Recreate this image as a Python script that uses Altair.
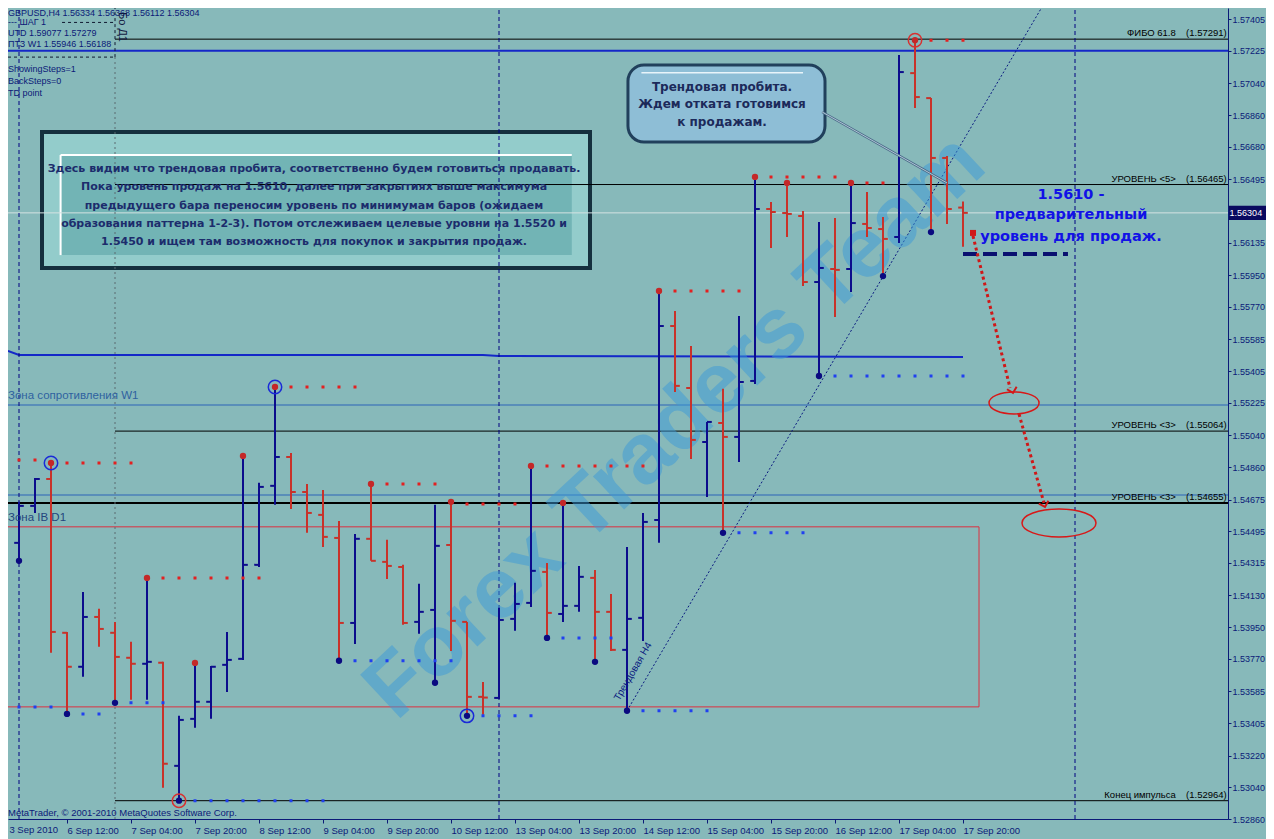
import altair as alt
import pandas as pd

# ---------------- OHLC data (GBPUSD H4, bar index 0..60) ----------------
OPEN = [1.54616, 1.54429, 1.54639, 1.54792, 1.53918, 1.53725, 1.54008, 1.53918, 1.53776, 1.53742,
        1.53748, 1.53162, 1.53429, 1.53526, 1.53736, 1.53770, 1.54304, 1.54753, 1.54917, 1.54718,
        1.54588, 1.54457, 1.53974, 1.54452, 1.54321, 1.54292, 1.53980, 1.54048, 1.54417, 1.53980,
        1.53554, 1.53548, 1.53997, 1.54088, 1.54264, 1.54025, 1.54071, 1.54230, 1.54037, 1.53821,
        1.54003, 1.54559, 1.55661, 1.55309, 1.55002, 1.55110, 1.55031, 1.55349, 1.56326, 1.56303,
        1.56286, 1.55911, 1.55985, 1.55985, 1.56241, 1.56212, 1.56167, 1.57098, 1.56956, 1.56616,
        1.56334]
HIGH = [1.54673, 1.54662, 1.54798, 1.54883, 1.53923, 1.54150, 1.54054, 1.53980, 1.53867, 1.54230,
        1.53753, 1.53446, 1.53747, 1.53730, 1.53923, 1.54923, 1.54770, 1.55315, 1.54940, 1.54764,
        1.54730, 1.54553, 1.54480, 1.54764, 1.54446, 1.54304, 1.54196, 1.54645, 1.54662, 1.53980,
        1.53639, 1.54060, 1.54202, 1.54866, 1.54315, 1.54656, 1.54298, 1.54275, 1.54139, 1.54406,
        1.54599, 1.55860, 1.55747, 1.55548, 1.55116, 1.55304, 1.55718, 1.56508, 1.56366, 1.56474,
        1.56315, 1.56252, 1.56275, 1.56474, 1.56422, 1.56280, 1.57201, 1.57285, 1.56956, 1.56627,
        1.56368]
LOW = [1.54417, 1.54327, 1.54599, 1.53804, 1.53457, 1.53668, 1.53838, 1.53520, 1.53537, 1.53537,
       1.53037, 1.52964, 1.53378, 1.53429, 1.53582, 1.53764, 1.54292, 1.54645, 1.54622, 1.54486,
       1.54406, 1.53759, 1.53855, 1.54327, 1.54224, 1.53963, 1.53912, 1.53634, 1.53815, 1.53446,
       1.53452, 1.53542, 1.53929, 1.54065, 1.53889, 1.53980, 1.54037, 1.53753, 1.53815, 1.53475,
       1.53872, 1.54429, 1.55286, 1.54906, 1.54690, 1.54486, 1.54889, 1.55332, 1.56104, 1.56167,
       1.55889, 1.55377, 1.55712, 1.55854, 1.56167, 1.55945, 1.56133, 1.56900, 1.56195, 1.56241,
       1.56112]
CLOSE = [1.54474, 1.54639, 1.54792, 1.53923, 1.53725, 1.54008, 1.53940, 1.53781, 1.53742, 1.53753,
         1.53174, 1.53423, 1.53526, 1.53725, 1.53764, 1.54304, 1.54747, 1.54917, 1.54718, 1.54599,
         1.54463, 1.53974, 1.54452, 1.54327, 1.54298, 1.53974, 1.54037, 1.54412, 1.53986, 1.53554,
         1.53550, 1.53991, 1.54082, 1.54270, 1.54031, 1.54071, 1.54236, 1.54037, 1.53821, 1.53997,
         1.54548, 1.55661, 1.55321, 1.55014, 1.55116, 1.55031, 1.55343, 1.56326, 1.56309, 1.56298,
         1.55911, 1.55991, 1.55980, 1.56246, 1.56218, 1.56156, 1.57104, 1.56962, 1.56616, 1.56326,
         1.56304]

# ---------------- axes ----------------
X_LABEL_BARS = [0, 4, 8, 12, 16, 20, 24, 28, 32, 36, 40, 44, 48, 52, 56, 60]
X_LABELS = ["3 Sep 2010", "6 Sep 12:00", "7 Sep 04:00", "7 Sep 20:00", "8 Sep 12:00",
            "9 Sep 04:00", "9 Sep 20:00", "10 Sep 12:00", "13 Sep 04:00", "13 Sep 20:00",
            "14 Sep 12:00", "15 Sep 04:00", "15 Sep 20:00", "16 Sep 12:00", "17 Sep 04:00",
            "17 Sep 20:00"]
Y_TICKS = [1.57405, 1.57225, 1.57040, 1.56860, 1.56680, 1.56495, 1.56135, 1.55950, 1.55770,
           1.55585, 1.55405, 1.55225, 1.55040, 1.54860, 1.54675, 1.54495, 1.54315, 1.54130,
           1.53950, 1.53770, 1.53585, 1.53405, 1.53220, 1.53040, 1.52860]
LAST_PRICE = 1.56304

# ---------------- fractals ----------------
HIGH_DOT_BARS = [0, 3, 9, 12, 15, 17, 23, 28, 33, 35, 41, 47, 49, 53, 57]
LOW_DOT_BARS = [1, 4, 7, 11, 21, 27, 29, 34, 37, 39, 45, 51, 55, 58]
BLUE_RING_BARS_HIGH = [3, 17]
BLUE_RING_BARS_LOW = [29]
RED_RING_BARS_HIGH = [57]
RED_RING_BARS_LOW = [11]
# (first bar, last bar, price)
RED_DOTTED = [(0, 2, 1.54900), (4, 8, 1.54883), (10, 16, 1.54230), (18, 22, 1.55315),
              (24, 27, 1.54764), (29, 32, 1.54650), (34, 40, 1.54866), (42, 46, 1.55860),
              (48, 52, 1.56508), (54, 55, 1.56474), (58, 60, 1.57285)]
BLUE_DOTTED = [(0, 3, 1.53497), (5, 6, 1.53457), (8, 10, 1.53520), (12, 20, 1.52964),
               (22, 28, 1.53759), (30, 33, 1.53446), (35, 38, 1.53889), (40, 44, 1.53475),
               (46, 50, 1.54486), (52, 60, 1.55377)]

# ---------------- levels / annotations ----------------
LEVEL_NAMES = ["ФИБО 61.8", "УРОВЕНЬ <5>", "УРОВЕНЬ <3>", "УРОВЕНЬ <3>", "Конец импульса"]
LEVEL_VALUES = ["(1.57291)", "(1.56465)", "(1.55064)", "(1.54655)", "(1.52964)"]
LEVEL_PRICES = [1.57291, 1.56465, 1.55064, 1.54655, 1.52964]
LEVEL_FROM_BAR = [7, 7, 7, 0.3125, 7]
BLUE_TOP_LEVEL = 1.57225
ZONE_W1 = 1.55213
ZONE_IB_TOP = 1.54701
IB_RECT = (-0.2, 61.0, 1.53497, 1.54520)
MA_BARS = [0.3125, 1, 30, 31, 60]
MA_PRICES = [1.55520, 1.55497, 1.55497, 1.55491, 1.55485]
SEPARATOR_BARS = [1, 31, 67]
TREND_BARS = [39, 64.9]
TREND_PRICES = [1.53475, 1.57468]
SELL_LEVEL_BARS = [60, 66.56]
SELL_LEVEL = 1.56070

BOX_LINES = ["Здесь видим что трендовая пробита, соответственно будем готовиться продавать.",
             "Пока уровень продаж на 1.5610, далее при закрытиях выше максимума",
             "предыдущего бара переносим уровень по минимумам баров (ожидаем",
             "образования паттерна 1-2-3). Потом отслеживаем целевые уровни на 1.5520 и",
             "1.5450 и ищем там возможность для покупок и закрытия продаж."]
BOX_LINE_PRICES = [1.56553, 1.56451, 1.56343, 1.56241, 1.56139]
CALLOUT_LINES = ["Трендовая пробита.", "Ждем отката готовимся", "к продажам."]
CALLOUT_PRICES = [1.57019, 1.56922, 1.56820]
BLUE_NOTE = ["1.5610 -", "предварительный", "уровень для продаж."]
BLUE_NOTE_PRICES = [1.56405, 1.56292, 1.56167]
INFO_LINES = ["GBPUSD,H4  1.56334 1.56368 1.56112 1.56304", "---  ШАГ 1",
              "UTD 1.59077  1.57279", "ПТЗ W1 1.55946  1.56188", "ShowingSteps=1",
              "BackSteps=0", "TD point"]
INFO_PRICES = [1.57440, 1.57386, 1.57326, 1.57263, 1.57121, 1.57053, 1.56985]

# ---------------- layout constants ----------------
W, H = 1220, 811
X_MIN, X_MAX = 0.3125, 76.5625
Y_MIN, Y_MAX = 1.52860, 1.57468
BG = "#87b9ba"
NAVY = "#0c1a78"
BLUE_BAR = "#0c0c8c"
RED_BAR = "#c8322a"
UI_FONT = "Liberation Sans"
BOLD_FONT = "DejaVu Sans"

XS = alt.Scale(domain=[X_MIN, X_MAX], nice=False, zero=False)
YS = alt.Scale(domain=[Y_MIN, Y_MAX], nice=False, zero=False)

LABEL_EXPR = "[" + ",".join("'%s'" % s for s in X_LABELS) + "][round(datum.value / 4)]"
XAXIS = alt.Axis(values=X_LABEL_BARS[1:], labelExpr=LABEL_EXPR, orient="bottom", title=None,
                 grid=False, domainColor=NAVY, domainWidth=1, tickColor=NAVY, tickSize=4,
                 tickWidth=1, labelColor=NAVY, labelFont=UI_FONT, labelFontSize=9.5,
                 labelAlign="left", labelBaseline="top", labelPadding=2, labelFlush=False,
                 labelOverlap=False)
YAXIS = alt.Axis(values=Y_TICKS, format=".5f", orient="right", title=None, grid=False,
                 domainColor=NAVY, domainWidth=1, tickColor=NAVY, tickSize=3, tickWidth=1,
                 labelColor=NAVY, labelFont=UI_FONT, labelFontSize=9, labelPadding=1,
                 labelFlush=False, labelOverlap=False)


def ex(f="x"):
    return alt.X(f, type="quantitative", scale=XS, axis=XAXIS)


def ey(f="y"):
    return alt.Y(f, type="quantitative", scale=YS, axis=YAXIS)


def rule(df, **mk):
    enc = {"x": ex("x"), "y": ey("y")}
    if "x2" in df.columns:
        enc["x2"] = alt.X2("x2")
    if "y2" in df.columns:
        enc["y2"] = alt.Y2("y2")
    return alt.Chart(df).mark_rule(**mk).encode(**enc)


def rect(df, **mk):
    return alt.Chart(df).mark_rect(**mk).encode(x=ex("x"), x2=alt.X2("x2"), y=ey("y"), y2=alt.Y2("y2"))


def text(df, **mk):
    return alt.Chart(df).mark_text(**mk).encode(x=ex("x"), y=ey("y"), text="t:N")


def df1(**kw):
    return pd.DataFrame({k: (v if isinstance(v, list) else [v]) for k, v in kw.items()})


layers = []

# ---- text box (beveled) ----
layers.append(rect(df1(x=2.3125, x2=36.8125, y=1.55979, y2=1.56775), color="#15303e"))
layers.append(rect(df1(x=2.5625, x2=36.5625, y=1.56002, y2=1.56752), color="#93cccb"))
layers.append(rect(df1(x=3.6, x2=35.55, y=1.56064, y2=1.56633), color="#72b4b5"))
layers.append(rule(df1(x=3.6, x2=35.55, y=1.56633), color="#ffffff", strokeWidth=2))
layers.append(rule(df1(x=3.6, y=1.56064, y2=1.56633), color="#ffffff", strokeWidth=2))

# ---- callout box ----
layers.append(rect(df1(x=39.06, x2=51.375, y=1.56706, y2=1.57144), color="#8ebed6",
                   stroke="#21405c", strokeWidth=3, cornerRadius=16))
layers.append(rule(df1(x=39.9, x2=50.0, y=1.57100), color="#e8f4fa", strokeWidth=1.5))

# ---- horizontal levels ----
layers.append(rule(df1(x=X_MIN, x2=X_MAX, y=ZONE_W1), color="#4a80b8", strokeWidth=1.5))
layers.append(rule(df1(x=X_MIN, x2=X_MAX, y=ZONE_IB_TOP), color="#4a80b8", strokeWidth=1.5))
layers.append(rect(df1(x=IB_RECT[0], x2=IB_RECT[1], y=IB_RECT[2], y2=IB_RECT[3]),
                   fillOpacity=0, stroke="#dc3040", strokeWidth=1))
layers.append(rule(df1(x=X_MIN, x2=X_MAX, y=LAST_PRICE), color="#d4e2e2", strokeWidth=1))
lv = pd.DataFrame({"x": LEVEL_FROM_BAR, "x2": [X_MAX] * 5, "y": LEVEL_PRICES})
layers.append(rule(lv[lv.index != 3], color="#000000", strokeWidth=1))
layers.append(rule(lv[lv.index == 3], color="#000000", strokeWidth=2))
layers.append(rule(df1(x=X_MIN, x2=X_MAX, y=BLUE_TOP_LEVEL), color="#1428c8", strokeWidth=2))
layers.append(alt.Chart(pd.DataFrame({"x": MA_BARS, "y": MA_PRICES})).mark_line(
    color="#1428c8", strokeWidth=2).encode(x=ex("x"), y=ey("y")))

# ---- vertical separators ----
layers.append(rule(pd.DataFrame({"x": SEPARATOR_BARS, "y": [Y_MIN] * 3, "y2": [Y_MAX] * 3}),
                   color="#000080", strokeWidth=1, strokeDash=[4, 3]))
layers.append(rule(df1(x=7, y=Y_MIN, y2=1.57189), color="#5b6b70", strokeWidth=1, strokeDash=[2, 3]))
layers.append(rule(df1(x=7, y=1.57189, y2=Y_MAX), color="#101830", strokeWidth=1, strokeDash=[3, 3]))
layers.append(rule(df1(x=X_MIN, x2=7, y=1.57189), color="#101830", strokeWidth=1, strokeDash=[3, 3]))
layers.append(rule(df1(x=3.69, x2=7, y=1.57386), color="#101830", strokeWidth=1, strokeDash=[3, 3]))

# ---- trend line ----
layers.append(rule(df1(x=TREND_BARS[0], x2=TREND_BARS[1], y=TREND_PRICES[0], y2=TREND_PRICES[1]),
                   color="#0a1a80", strokeWidth=1, strokeDash=[2, 2]))

# ---- watermark ----
layers.append(text(df1(x=42.0, y=1.5509, t="Forex Traders Team"), font=UI_FONT, fontWeight="bold",
                   fontSize=86, angle=317, color="#3c9ad8", opacity=0.5,
                   align="center", baseline="middle"))

# ---- OHLC bars ----
bars = pd.DataFrame({"i": list(range(len(OPEN))), "o": OPEN, "h": HIGH, "l": LOW, "c": CLOSE})
bars["dir"] = ["up" if c >= o else "down" for o, c in zip(OPEN, CLOSE)]
bars["xl"] = bars["i"] - 0.3
bars["xr"] = bars["i"] + 0.3
col = alt.Color("dir:N", scale=alt.Scale(domain=["up", "down"], range=[BLUE_BAR, RED_BAR]), legend=None)
layers.append(alt.Chart(bars).mark_rule(strokeWidth=2).encode(
    x=ex("i"), y=ey("l"), y2=alt.Y2("h"), color=col))
layers.append(alt.Chart(bars).mark_rule(strokeWidth=2).encode(
    x=ex("xl"), x2=alt.X2("i"), y=ey("o"), color=col))
layers.append(alt.Chart(bars).mark_rule(strokeWidth=2).encode(
    x=ex("i"), x2=alt.X2("xr"), y=ey("c"), color=col))

# ---- fractal dotted lines ----
rd = pd.DataFrame({"x": [s - 0.094 for s, e, p in RED_DOTTED], "x2": [e + 0.094 for s, e, p in RED_DOTTED],
                   "y": [p for s, e, p in RED_DOTTED]})
bd = pd.DataFrame({"x": [s - 0.094 for s, e, p in BLUE_DOTTED], "x2": [e + 0.094 for s, e, p in BLUE_DOTTED],
                   "y": [p for s, e, p in BLUE_DOTTED]})
layers.append(rule(rd, color="#e42020", strokeWidth=3, strokeDash=[3, 13]))
layers.append(rule(bd, color="#2040f0", strokeWidth=3, strokeDash=[3, 13]))

# ---- fractal dots & rings ----
hd = pd.DataFrame({"x": HIGH_DOT_BARS, "y": [HIGH[i] for i in HIGH_DOT_BARS]})
ld = pd.DataFrame({"x": LOW_DOT_BARS, "y": [LOW[i] for i in LOW_DOT_BARS]})
layers.append(alt.Chart(hd).mark_circle(size=40, color="#c42828", opacity=1).encode(x=ex("x"), y=ey("y")))
layers.append(alt.Chart(ld).mark_circle(size=40, color="#0a0a80", opacity=1).encode(x=ex("x"), y=ey("y")))
br = pd.DataFrame({"x": BLUE_RING_BARS_HIGH + BLUE_RING_BARS_LOW,
                   "y": [HIGH[i] for i in BLUE_RING_BARS_HIGH] + [LOW[i] for i in BLUE_RING_BARS_LOW]})
rr = pd.DataFrame({"x": RED_RING_BARS_HIGH + RED_RING_BARS_LOW,
                   "y": [HIGH[i] for i in RED_RING_BARS_HIGH] + [LOW[i] for i in RED_RING_BARS_LOW]})
layers.append(alt.Chart(br).mark_point(shape="circle", filled=False, size=180, strokeWidth=1.5,
                                       color="#1a2ad8", opacity=1).encode(x=ex("x"), y=ey("y")))
layers.append(alt.Chart(rr).mark_point(shape="circle", filled=False, size=180, strokeWidth=1.5,
                                       color="#d83030", opacity=1).encode(x=ex("x"), y=ey("y")))

# ---- callout pointer ----
layers.append(rule(df1(x=51.2, x2=59.0, y=1.56877, y2=1.56474), color="#4a6a88", strokeWidth=2.5))
layers.append(rule(df1(x=51.2, x2=59.0, y=1.56877, y2=1.56474), color="#c8dce8", strokeWidth=0.8))

# ---- sell level & red arrows / ellipses ----
layers.append(rule(df1(x=SELL_LEVEL_BARS[0], x2=SELL_LEVEL_BARS[1], y=SELL_LEVEL),
                   color="#0a1070", strokeWidth=4, strokeDash=[14, 6]))
layers.append(rule(df1(x=[60.625, 63.5], x2=[62.94, 65.06], y=[1.56173, 1.55161], y2=[1.55309, 1.54656]),
                   color="#d01818", strokeWidth=3, strokeDash=[3, 3]))
layers.append(alt.Chart(df1(x=60.625, y=1.56190)).mark_square(size=36, color="#d01818", opacity=1)
              .encode(x=ex("x"), y=ey("y")))
ARROW = "M-1,-1L0,0L1,-1"
layers.append(alt.Chart(pd.DataFrame({"x": [63.125, 65.125], "y": [1.55281, 1.54633], "a": [346, 344]}))
              .mark_point(shape=ARROW, filled=False, size=100, strokeWidth=2, color="#d01818", opacity=1)
              .encode(x=ex("x"), y=ey("y"), angle=alt.Angle("a:Q", scale=None)))


def ellipse_path(r):
    k = 0.5523
    return ("M-1,0C-1,{a:.4f},{b:.4f},{c:.4f},0,{c:.4f}C{k:.4f},{c:.4f},1,{a:.4f},1,0"
            "C1,{d:.4f},{k:.4f},{r:.4f},0,{r:.4f}C{b:.4f},{r:.4f},-1,{d:.4f},-1,0Z").format(
        a=-k * r, b=-k, c=-r, d=k * r, k=k, r=r)


layers.append(alt.Chart(df1(x=63.19, y=1.55224)).mark_point(
    shape=ellipse_path(0.44), filled=False, size=2500, strokeWidth=1.5, color="#d81818", opacity=1)
    .encode(x=ex("x"), y=ey("y")))
layers.append(alt.Chart(df1(x=66.0, y=1.54542)).mark_point(
    shape=ellipse_path(0.38), filled=False, size=5476, strokeWidth=1.5, color="#d81818", opacity=1)
    .encode(x=ex("x"), y=ey("y")))

# ---- current price tag on axis ----
layers.append(rect(df1(x=X_MAX + 0.06, x2=X_MAX + 2.4, y=1.56264, y2=1.56344), color="#0a0a60"))
layers.append(text(df1(x=X_MAX + 0.1, y=LAST_PRICE, t="1.56304"), font=UI_FONT, fontSize=9,
                   color="#ffffff", align="left", baseline="middle"))
layers.append(text(df1(x=-0.1, y=Y_MIN, t=X_LABELS[0]), font=UI_FONT, fontSize=9.5, color=NAVY,
                   align="left", baseline="top", dx=8, dy=6))

# ---- level labels ----
layers.append(text(pd.DataFrame({"x": [73.3] * 5, "y": LEVEL_PRICES, "t": LEVEL_NAMES}),
                   font=UI_FONT, fontSize=9.5, color="#000000", align="right", baseline="middle", dy=-6))
layers.append(text(pd.DataFrame({"x": [X_MAX - 0.08] * 5, "y": LEVEL_PRICES, "t": LEVEL_VALUES}),
                   font=UI_FONT, fontSize=9.5, color="#000000", align="right", baseline="middle", dy=-6))
layers.append(text(df1(x=X_MIN, y=ZONE_W1, t="Зона сопротивления W1"), font=UI_FONT, fontSize=11.5,
                   color="#2f62a0", align="left", baseline="middle", dy=-9))
layers.append(text(df1(x=X_MIN, y=IB_RECT[3], t="Зона IB D1"), font=UI_FONT, fontSize=11.5,
                   color="#24467e", align="left", baseline="middle", dy=-9))

# ---- top-left info ----
layers.append(text(pd.DataFrame({"x": [X_MIN] * len(INFO_LINES), "y": INFO_PRICES, "t": INFO_LINES}),
                   font=UI_FONT, fontSize=9, color=NAVY, align="left", baseline="middle"))
layers.append(text(df1(x=7.4375, y=1.57360, t="Бо Д1"), font=UI_FONT, fontSize=11, color="#101840",
                   align="center", baseline="middle", angle=90))
layers.append(text(df1(x=X_MIN, y=1.52895, t="MetaTrader, © 2001-2010 MetaQuotes Software Corp."),
                   font=UI_FONT, fontSize=9.5, color=NAVY, align="left", baseline="middle"))

# ---- trend label ----
layers.append(text(df1(x=38.625, y=1.53523, t="Трендовая Н4"), font=UI_FONT, fontSize=10,
                   color="#0a1a80", align="left", baseline="bottom", angle=300))

# ---- box texts ----
layers.append(text(pd.DataFrame({"x": [19.44] * 5, "y": BOX_LINE_PRICES, "t": BOX_LINES}),
                   font=BOLD_FONT, fontWeight="bold", fontSize=11, color="#1c2c6c",
                   align="center", baseline="middle"))
layers.append(text(pd.DataFrame({"x": [44.94] * 3, "y": CALLOUT_PRICES, "t": CALLOUT_LINES}),
                   font=BOLD_FONT, fontWeight="bold", fontSize=12, color="#1c2a5a",
                   align="center", baseline="middle"))
layers.append(text(pd.DataFrame({"x": [66.75] * 3, "y": BLUE_NOTE_PRICES, "t": BLUE_NOTE}),
                   font=BOLD_FONT, fontWeight="bold", fontSize=14.5, color="#1212e6",
                   align="center", baseline="middle"))

chart = alt.layer(*layers).properties(
    width=W, height=H, background=BG,
    padding={"left": 0, "top": 0, "right": 38, "bottom": 20},
    autosize=alt.AutoSizeParams(type="none"),
).configure_view(fill=BG, strokeOpacity=0)

chart.save("out.html", embed_options={"renderer": "svg", "actions": False})
